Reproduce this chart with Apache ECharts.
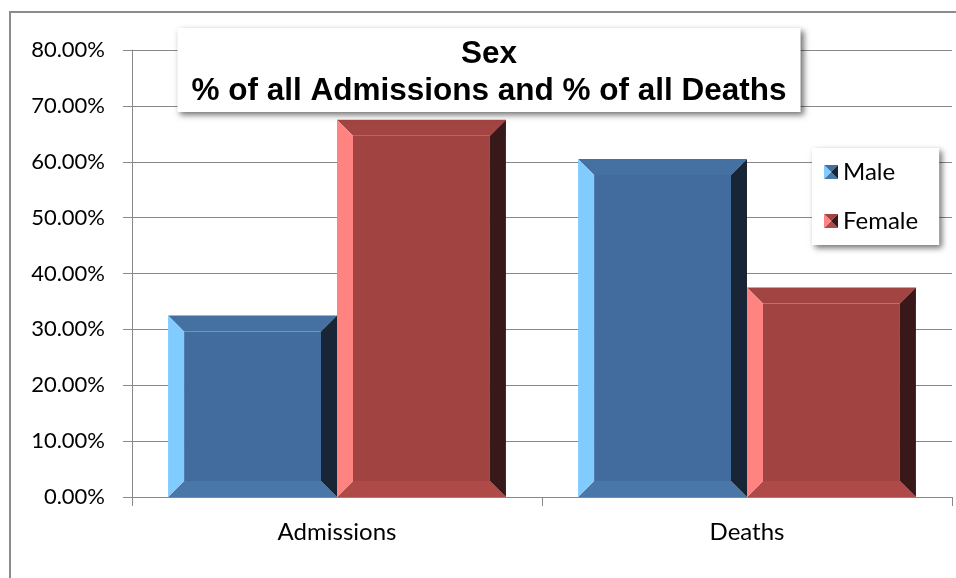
<!DOCTYPE html>
<html>
<head>
<meta charset="utf-8">
<script src="https://cdn.jsdelivr.net/npm/echarts@6/dist/echarts.min.js"></script>
<style>
html,body{margin:0;padding:0;background:#fff;}
#chart{width:956px;height:578px;}
</style>
</head>
<body>
<div id="chart"></div>
<script>
const categories = ['Admissions', 'Deaths'];
const maleValues = [32.5, 60.5];
const femaleValues = [67.5, 37.5];
const seriesNames = ['Male', 'Female'];
const titleLines = ['Sex', '% of all Admissions and % of all Deaths'];
const yTicks = [0, 10, 20, 30, 40, 50, 60, 70, 80];

const palettes = [
  {main:'#426C9E', top:'#4470A2', bottom:'#4A77AA', left:'#80CCFF', right:'#172537'},
  {main:'#A04341', top:'#A24442', bottom:'#AE4A48', left:'#FF8380', right:'#381818'}
];
const GAP = 0.176;
const BEV = 16;

function icon(p){
  const svg = '<svg xmlns="http://www.w3.org/2000/svg" width="14" height="14" viewBox="0 0 14 14">'+
    '<polygon points="0,0 14,0 7,7" fill="'+p.top+'"/>'+
    '<polygon points="0,14 14,14 7,7" fill="'+p.bottom+'"/>'+
    '<polygon points="0,0 7,7 0,14" fill="'+p.left+'"/>'+
    '<polygon points="14,0 7,7 14,14" fill="'+p.right+'"/></svg>';
  return 'image://data:image/svg+xml;charset=utf-8,' + encodeURIComponent(svg);
}

function makeRender(si){
  return function(params, api){
    const ci = api.value(0), v = api.value(1);
    const band = api.size([1, 0])[0];
    const bw = band * (1 - GAP) / 2;
    const base = api.coord([ci, 0]);
    const top = api.coord([ci, v]);
    const x0 = top[0] + (si === 0 ? -bw : 0);
    const x1 = x0 + bw;
    const y0 = top[1], y1 = base[1];
    const b = Math.min(BEV, (y1 - y0) / 2);
    const p = palettes[si];
    const poly = (pts, c) => ({type:'polygon', shape:{points:pts}, style:{fill:c}});
    return {type:'group', children:[
      {type:'rect', shape:{x:x0+b, y:y0+b, width:bw-2*b, height:(y1-y0)-2*b}, style:{fill:p.main}},
      poly([[x0,y0],[x1,y0],[x1-b,y0+b],[x0+b,y0+b]], p.top),
      poly([[x0,y1],[x1,y1],[x1-b,y1-b],[x0+b,y1-b]], p.bottom),
      poly([[x0,y0],[x0+b,y0+b],[x0+b,y1-b],[x0,y1]], p.left),
      poly([[x1,y0],[x1-b,y0+b],[x1-b,y1-b],[x1,y1]], p.right)
    ]};
  };
}

const chart = echarts.init(document.getElementById('chart'), null, {renderer:'canvas'});
const labelFont = 'Lato, "Open Sans", sans-serif';
chart.setOption({
  animation:false,
  backgroundColor:'#fff',
  graphic:[{type:'rect', z:-10, shape:{x:10, y:12, width:1000, height:1000},
    style:{fill:'none', stroke:'#8c8c8c', lineWidth:2}}],
  title:{
    text: titleLines.join('\n'),
    left:475, top:28, textAlign:'center',
    padding:[8, 14, 2, 14],
    backgroundColor:'#fff',
    shadowColor:'rgba(0,0,0,0.55)', shadowBlur:6, shadowOffsetX:3, shadowOffsetY:3,
    textStyle:{fontFamily:'"Liberation Sans", Arial, sans-serif', fontWeight:'bold', fontSize:31.5, lineHeight:37, color:'#000'}
  },
  legend:{
    orient:'vertical', left:812, top:148,
    padding:[12, 21, 12, 12],
    itemWidth:14, itemHeight:14, itemGap:25, itemTextGap:6,
    backgroundColor:'#fff',
    shadowColor:'rgba(0,0,0,0.55)', shadowBlur:6, shadowOffsetX:3, shadowOffsetY:3,
    textStyle:{fontFamily:labelFont, fontSize:24, lineHeight:24, color:'#000'},
    data:[{name:seriesNames[0], icon:icon(palettes[0])},{name:seriesNames[1], icon:icon(palettes[1])}]
  },
  grid:{left:132, top:50, right:4, bottom:81, containLabel:false},
  xAxis:{
    type:'category', data:categories, boundaryGap:true,
    axisLine:{lineStyle:{color:'#888', width:1}},
    axisTick:{show:true, length:9, lineStyle:{color:'#888'}},
    axisLabel:{fontFamily:labelFont, fontSize:24, color:'#000', margin:23}
  },
  yAxis:{
    type:'value', min:yTicks[0], max:yTicks[yTicks.length-1], interval:yTicks[1]-yTicks[0],
    axisLine:{show:true, lineStyle:{color:'#888', width:1}},
    axisTick:{show:true, length:9, lineStyle:{color:'#888'}},
    splitLine:{show:true, lineStyle:{color:'#888', width:1}},
    axisLabel:{fontFamily:labelFont, fontSize:22, color:'#000', margin:27,
      formatter:v => v.toFixed(2) + '%'}
  },
  series:[
    {name:seriesNames[0], type:'custom', renderItem:makeRender(0), encode:{x:0, y:1},
      itemStyle:{color:palettes[0].main}, data:maleValues.map((v,i)=>[i,v])},
    {name:seriesNames[1], type:'custom', renderItem:makeRender(1), encode:{x:0, y:1},
      itemStyle:{color:palettes[1].main}, data:femaleValues.map((v,i)=>[i,v])}
  ]
});
</script>
</body>
</html>
